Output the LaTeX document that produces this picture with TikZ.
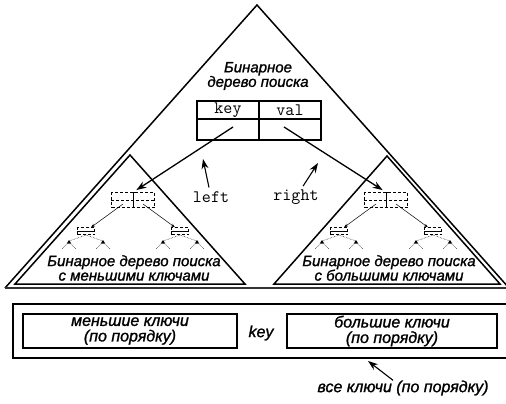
\documentclass[tikz,border=0pt]{standalone}
\usepackage{fontspec}
\setmainfont{Liberation Sans}
\newfontfamily\capfont{Liberation Sans Italic}[FakeBold=1.3]
\usetikzlibrary{arrows.meta}

\begin{document}
\begin{tikzpicture}[x=1pt, y=-1pt,
    txt/.style     = {font=\fontsize{15}{14.5}\selectfont\capfont, align=center, inner sep=0pt},
    bigtxt/.style  = {txt, font=\fontsize{16}{15.5}\selectfont\capfont},
    code/.style    = {font=\fontsize{17.5}{17}\selectfont\ttfamily, inner sep=0pt},
    cell/.style    = {shape=rectangle, draw=black, line width=1.1pt, minimum width=62pt, inner sep=0pt},
    box/.style     = {shape=rectangle, draw=black, line width=1.2pt, inner sep=0pt},
    side/.style    = {line width=1.5pt, line join=miter},
    ptr/.style     = {-{Stealth[length=10pt,width=7pt]}, line width=1.3pt},
    mini/.style    = {shape=rectangle, draw=black, densely dashed, line width=0.5pt, inner sep=0pt},
    miniptr/.style = {-{Stealth[length=4pt,width=3pt]}, line width=0.5pt}
  ]
  \useasboundingbox (0,0) rectangle (506,404);

  % ------------------------------------------------------------------------
  % Whole tree
  \coordinate (top) at (257,5);
  \coordinate (bl)  at (5,288);
  \coordinate (br)  at (509,288);

  \draw[side] (bl) -- (top) -- (br);
  \draw[line width=2.2pt, black!80] (bl) -- (br);

  \node[txt] at (258,76) (name) {Бинарное\\дерево поиска};

  \node[cell, code, minimum height=18pt] at (228,110)   (key)  {key};
  \node[cell, code, minimum height=18pt] at (290,110)   (val)  {val};
  \node[cell, minimum height=21pt]       at (228,129.5) (kl)   {};
  \node[cell, minimum height=21pt]       at (290,129.5) (kr)   {};

  % ------------------------------------------------------------------------
  % Subtrees
  \coordinate (ltop) at (130,155);
  \coordinate (lbl)  at (15,284);
  \coordinate (lbr)  at (245,284);
  \coordinate (rtop) at (387,156);
  \coordinate (rbl)  at (274,284);
  \coordinate (rbr)  at (500,284);

  \draw[side] (lbl) -- (ltop) -- (lbr) -- cycle;
  \draw[side] (rbl) -- (rtop) -- (rbr) -- cycle;

  \foreach \s/\cx in {l/133, r/386} {
    \begin{scope}[shift={(\cx,200)}]
      \node[mini, minimum width=43pt, minimum height=15pt] at (0,0) (\s-root) {};
      \draw[densely dashed, line width=0.5pt] (\s-root.west) -- (\s-root.east);
      \draw[line width=0.8pt] (0,-7.5) -- (0,7.5) (-3,-7.5) -- (3,-7.5);
      \coordinate (\s-lp) at (-10,4);
      \coordinate (\s-rp) at (10,4);

      \node[mini, minimum width=17pt, minimum height=7pt] at (-47,31) (\s-lc) {};
      \node[mini, minimum width=17pt, minimum height=7pt] at (47,31)  (\s-rc) {};
      \draw[line width=0.5pt] (\s-lc.west) -- (\s-lc.east) (\s-rc.west) -- (\s-rc.east);

      \draw[miniptr] (\s-lp) -- (\s-lc);
      \draw[miniptr] (\s-rp) -- (\s-rc);

      % next level, only hinted
      \foreach \c in {-47,47} {
        \foreach \d in {-17,17} {
          \draw[densely dotted, line width=0.5pt] (\c,35) -- (\c+\d,41);
          \fill (\c+\d,40) -- ++(-2.2,3.5) -- ++(4.4,0) -- cycle;
          \draw[densely dotted, line width=0.5pt] (\c+\d-2,44) -- (\c+\d-7,49)
                                                  (\c+\d+2,44) -- (\c+\d+7,49);
        }
      }
    \end{scope}
  }

  \node[txt] at (134,268) (lname) {Бинарное дерево поиска\\с меньшими ключами};
  \node[txt] at (389,268) (rname) {Бинарное дерево поиска\\с большими ключами};

  \coordinate (lfrom) at (233,127);
  \coordinate (rfrom) at (284,127);

  \draw[ptr, shorten >=4pt] (lfrom) -- (l-root.north);
  \draw[ptr, shorten >=4pt] (rfrom) -- (r-root.north);

  \node[code] at (211,197) (left)  {left};
  \node[code] at (296,197) (right) {right};

  \coordinate (lhint) at (203,159);
  \coordinate (rhint) at (318,163);

  \draw[ptr, line width=1.1pt, shorten <=4pt] (left)  -- (lhint);
  \draw[ptr, line width=1.1pt, shorten <=4pt] (right) -- (rhint);

  % ------------------------------------------------------------------------
  % Keys in order
  \node[box, minimum width=502pt, minimum height=54pt] at (264,331) (all) {};

  \node[box, bigtxt, minimum width=214pt, minimum height=34pt] at (130,331) (less)
    {меньшие ключи\\(по порядку)};
  \node[box, bigtxt, minimum width=210pt, minimum height=34pt] at (392,331) (more)
    {большие ключи\\(по порядку)};
  \node[bigtxt] at (261,333) (mid) {key};

  \node[bigtxt] at (403,388) (allkeys) {все ключи (по порядку)};
  \coordinate (alltip) at (368,361);

  \draw[ptr, line width=1.1pt] (allkeys) -- (alltip);
\end{tikzpicture}
\end{document}
